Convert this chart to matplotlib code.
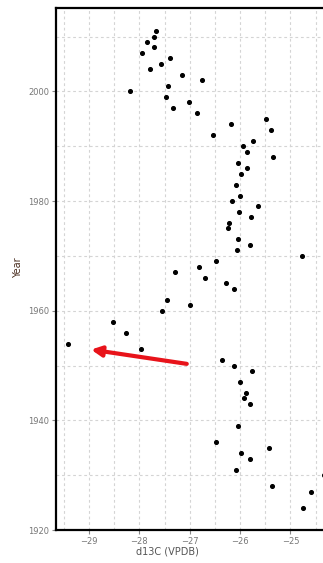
import matplotlib
matplotlib.use("Agg")
import matplotlib.pyplot as plt
from matplotlib.ticker import MultipleLocator

d13c = [-27.67, -27.72, -27.85, -27.72, -27.94, -27.40, -27.57, -27.79, -27.16, -26.76,
        -27.43, -28.18, -27.48, -27.01, -27.33, -26.85, -25.48, -26.18, -25.38, -26.54,
        -25.74, -25.94, -25.86, -25.34, -26.05, -25.86, -25.99, -26.09, -26.00, -26.17,
        -25.64, -26.02, -25.79, -26.23, -26.25, -26.05, -25.81, -26.06, -24.78, -26.48,
        -26.82, -27.29, -26.69, -26.29, -26.13, -27.45, -26.99, -27.55, -28.52, -28.26,
        -29.42, -27.96, -26.36, -26.13, -25.77, -26.01, -25.88, -25.93, -25.81, -26.04,
        -26.48, -25.43, -25.99, -25.80, -26.09, -24.34, -25.37, -24.59, -24.76]
years = [2011, 2010, 2009, 2008, 2007, 2006, 2005, 2004, 2003, 2002,
         2001, 2000, 1999, 1998, 1997, 1996, 1995, 1994, 1993, 1992,
         1991, 1990, 1989, 1988, 1987, 1986, 1985, 1983, 1981, 1980,
         1979, 1978, 1977, 1976, 1975, 1973, 1972, 1971, 1970, 1969,
         1968, 1967, 1966, 1965, 1964, 1962, 1961, 1960, 1958, 1956,
         1954, 1953, 1951, 1950, 1949, 1947, 1945, 1944, 1943, 1939,
         1936, 1935, 1934, 1933, 1931, 1930, 1928, 1927, 1924]

x_ticks = [-29, -28, -27, -26, -25]
y_ticks = [1920, 1940, 1960, 1980, 2000]

arrow_tip = (-28.96, 1952.9)
arrow_tail = (-27.06, 1950.3)

fig = plt.figure(figsize=(3.23, 5.63), dpi=100)
ax = fig.add_axes([56/323, 1 - 530/563, 1 - 56/323 + 0.01, (530 - 8)/563])

ax.set_xlim(-29.657, -24.29)
ax.set_ylim(1920, 2015.2)

ax.xaxis.set_minor_locator(MultipleLocator(0.5))
ax.yaxis.set_minor_locator(MultipleLocator(10))
ax.set_xticks(x_ticks)
ax.set_yticks(y_ticks)

ax.grid(True, which='both', color='#d4d4d4', linestyle=(0, (2.5, 2.5)), linewidth=0.8)
ax.set_axisbelow(True)

ax.scatter(d13c, years, s=7, color='black', zorder=3, clip_on=True)

ax.annotate('', xy=arrow_tip, xytext=arrow_tail,
            arrowprops=dict(arrowstyle='-|>,head_length=0.6,head_width=0.3',
                            color='#e8131a', lw=3, shrinkA=0, shrinkB=0),
            zorder=4)

for side in ['left', 'top', 'bottom']:
    ax.spines[side].set_color('black')
    ax.spines[side].set_linewidth(1.6)
ax.spines['right'].set_visible(False)

ax.tick_params(which='major', direction='out', length=3, width=0.8, color='#888888',
               labelsize=6, labelcolor='#777777', pad=2)
ax.tick_params(which='minor', length=0)
ax.tick_params(axis='x', top=False)

fig.text(167/323, 1 - 551/563, 'd13C (VPDB)', ha='center', va='center',
         fontsize=7, color='#555555')
fig.text(18/323, 1 - 268/563, 'Year', ha='center', va='center', rotation=90,
         fontsize=7, color='#4a2e20')

fig.savefig('out.png', dpi=100)
